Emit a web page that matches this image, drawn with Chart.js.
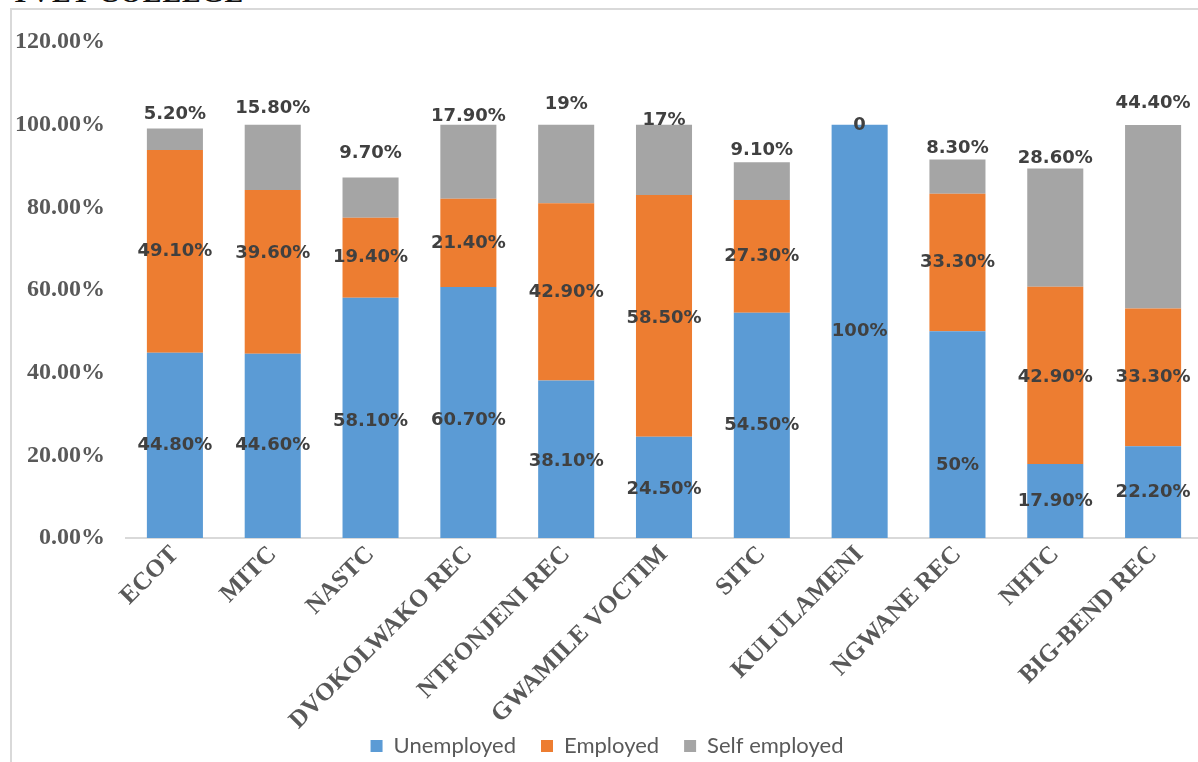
<!DOCTYPE html>
<html>
<head>
<meta charset="utf-8">
<script src="https://cdn.jsdelivr.net/npm/chart.js@4"></script>
<style>
  html, body { margin:0; padding:0; width:1198px; height:762px; overflow:hidden; background:#fff; }
  #title { position:absolute; left:11px; top:-21px; font:bold 28px/28px "Liberation Serif", serif; color:#111; white-space:nowrap; letter-spacing:1px; }
  #frame { position:absolute; left:10px; top:8px; width:1300px; height:800px; border-left:2px solid #d9d9d9; border-top:2px solid #d9d9d9; }
  #c { position:absolute; left:0; top:0; }
</style>
</head>
<body>
<div id="title">TVET COLLEGE</div>
<div id="frame"><canvas id="c" width="1200" height="757"></canvas></div>
<script>
const categories = ["ECOT","MITC","NASTC","DVOKOLWAKO REC","NTFONJENI REC","GWAMILE VOCTIM","SITC","KULULAMENI","NGWANE REC","NHTC","BIG-BEND REC"];
const seriesNames = ["Unemployed","Employed","Self employed"];
const unemployed   = [44.8, 44.6, 58.1, 60.7, 38.1, 24.5, 54.5, 100, 50, 17.9, 22.2];
const employed     = [49.1, 39.6, 19.4, 21.4, 42.9, 58.5, 27.3, 0, 33.3, 42.9, 33.3];
const selfEmployed = [5.2, 15.8, 9.7, 17.9, 19, 17, 9.1, 0, 8.3, 28.6, 44.4];
const unemployedLabels   = ["44.80%","44.60%","58.10%","60.70%","38.10%","24.50%","54.50%","100%","50%","17.90%","22.20%"];
const employedLabels     = ["49.10%","39.60%","19.40%","21.40%","42.90%","58.50%","27.30%",null,"33.30%","42.90%","33.30%"];
const selfEmployedLabels = ["5.20%","15.80%","9.70%","17.90%","19%","17%","9.10%","0","8.30%","28.60%","44.40%"];
const yTicks = [0, 20, 40, 60, 80, 100, 120];

// label nudges in pixels (placement of data labels, as in the original)
const nudgeUnemployed = [0,0,3,8,2,2,0,0,31,0,0];
const nudgeEmployed   = [0,-18,0,0,0,2,0,0,0,2,0];
const aboveSelf       = [14,16,24,8,20,4,12,-1,11,10,22];

const colors = ["#5b9bd5","#ed7d31","#a5a5a5"];

const labelPlugin = {
  id: 'segLabels',
  afterDatasetsDraw(chart) {
    const ctx = chart.ctx;
    ctx.save();
    ctx.font = 'bold 18px "DejaVu Sans", sans-serif';
    ctx.fillStyle = '#404040';
    ctx.textAlign = 'center';
    ctx.textBaseline = 'middle';
    const lbls = [unemployedLabels, employedLabels, selfEmployedLabels];
    const nudges = [nudgeUnemployed, nudgeEmployed];
    chart.data.datasets.forEach((ds, i) => {
      const meta = chart.getDatasetMeta(i);
      meta.data.forEach((bar, j) => {
        const t = lbls[i][j];
        if (t == null) return;
        let y;
        if (i < 2) {
          y = (bar.y + bar.base) / 2 + nudges[i][j];
        } else {
          y = Math.min(bar.y, bar.base) - aboveSelf[j];
        }
        ctx.fillText(t, bar.x, y);
      });
    });
    ctx.restore();
  }
};

new Chart(document.getElementById('c'), {
  type: 'bar',
  data: {
    labels: categories,
    datasets: [
      { label: seriesNames[0], data: unemployed, backgroundColor: colors[0] },
      { label: seriesNames[1], data: employed, backgroundColor: colors[1] },
      { label: seriesNames[2], data: selfEmployed, backgroundColor: colors[2] }
    ]
  },
  options: {
    responsive: false,
    animation: false,
    datasets: { bar: { barPercentage: 0.573, categoryPercentage: 1.0 } },
    layout: { padding: { top: 32, right: 10, left: 0, bottom: 0 } },
    plugins: {
      legend: {
        position: 'bottom',
        labels: {
          boxWidth: 12, boxHeight: 12, padding: 25,
          color: '#595959',
          font: { family: 'Lato', size: 22 }
        }
      },
      tooltip: { enabled: false }
    },
    scales: {
      x: {
        stacked: true,
        grid: { display: false, drawTicks: false },
        border: { color: '#d9d9d9', width: 2 },
        ticks: {
          autoSkip: false, minRotation: 45, maxRotation: 45, padding: 2,
          color: '#595959',
          font: { family: '"Liberation Serif"', size: 25, weight: 'bold' }
        },
        afterFit(s) { s.height = 172; s._computeLabelArea = () => undefined; }
      },
      y: {
        stacked: true,
        min: 0, max: 120,
        grid: { display: false, drawTicks: false },
        border: { display: false },
        afterBuildTicks(s) { s.ticks = yTicks.map(v => ({ value: v })); },
        ticks: {
          padding: 21,
          color: '#595959',
          font: { family: '"Liberation Serif"', size: 24, weight: 'bold' },
          callback: v => v.toFixed(2) + '%'
        },
        afterFit(s) { s.width = 114; s.paddingTop = 0; s.paddingBottom = 0; }
      }
    }
  },
  plugins: [labelPlugin]
});
</script>
</body>
</html>
